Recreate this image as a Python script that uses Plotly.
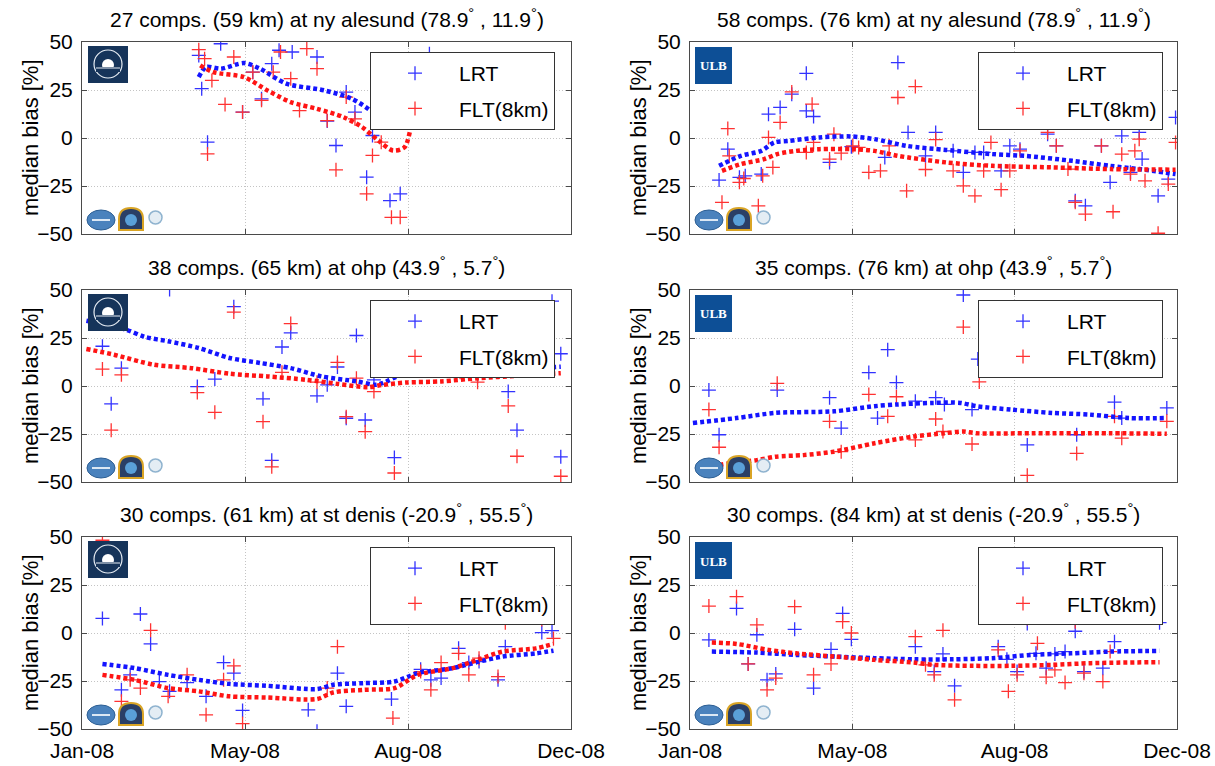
import plotly.graph_objects as go

W, H = 1215, 766

# ---------------- data (x = days since 1 Jan 2008) ----------------
TICK_TEXT = ["Jan-08", "May-08", "Aug-08", "Dec-08"]

TITLES = [
    "27 comps. (59 km) at ny alesund (78.9<sup>°</sup> , 11.9<sup>°</sup>)",
    "58 comps. (76 km) at ny alesund (78.9<sup>°</sup> , 11.9<sup>°</sup>)",
    "38 comps. (65 km) at ohp (43.9<sup>°</sup> , 5.7<sup>°</sup>)",
    "35 comps. (76 km) at ohp (43.9<sup>°</sup> , 5.7<sup>°</sup>)",
    "30 comps. (61 km) at st denis (-20.9<sup>°</sup> , 55.5<sup>°</sup>)",
    "30 comps. (84 km) at st denis (-20.9<sup>°</sup> , 55.5<sup>°</sup>)",
]

# panel 1 : ny alesund, left
p1_lrt_day = [80, 95, 82, 86, 110, 117, 123, 130, 135, 144, 161, 168, 174, 181, 187, 195, 199, 211, 218, 238]
p1_lrt = [43.0, 49.1, 25.7, -2.2, 13.5, 34.3, 20.4, 38.7, 45.7, 44.8, 42.2, 8.8, -3.9, 23.9, 13.5, -20.4, 1.3, -32.6, -29.1, 43.9]
p1_flt_day = [80, 84, 89, 98, 86, 104, 110, 117, 123, 131, 136, 143, 149, 154, 161, 168, 174, 181, 187, 195, 199, 205, 212, 218]
p1_flt = [46.0, 41.3, 30.0, 17.5, -8.3, 42.2, 13.5, 34.3, 19.6, 34.3, 44.8, 30.9, 14.3, 46.5, 36.1, 9.1, -16.6, 21.3, 10.0, -29.1, -9.1, -2.2, -41.3, -41.3]
p1_lrt_fit_day = [80, 85, 95, 111, 122, 140, 166, 185, 199, 208, 218, 224, 231]
p1_lrt_fit = [31.7, 37.0, 36.1, 39.0, 36.1, 28.3, 24.8, 20.4, 13.5, 7.4, 7.4, 10.9, 20.0]
p1_flt_fit_day = [81, 90, 111, 127, 143, 161, 179, 192, 203, 213, 221, 226, 229]
p1_flt_fit = [37.8, 34.3, 31.7, 24.8, 18.7, 15.2, 10.9, 5.6, -1.3, -6.5, -4.8, 7.4, 12.6]

# panel 2 : ny alesund, right
p2_lrt_day = [20, 26, 34, 38, 49, 54, 62, 70, 80, 80, 85, 96, 111, 134, 143, 150, 162, 169, 181, 188, 196, 202,
              214, 220, 227, 246, 252, 265, 272, 283, 289, 297, 303, 309, 311, 322, 329, 334]
p2_lrt = [-21.9, -5.8, -20.5, -19.7, -18.8, 12.4, 15.9, 22.8, 33.7, 14.1, 11.2, -12.7, -4.5, -10.1, 39.3, 2.9, -9.3, 2.9,
          -6.7, -17.9, -7.5, -7.5, -17.1, -4.1, -5.8, 2.0, -4.1, -32.7, -35.3, -4.1, -23.1, 1.1, -17.9, 2.9, -11.0,
          -30.1, -21.4, 10.7]
p2_flt_day = [22, 26, 27, 34, 37, 47, 50, 54, 57, 62, 70, 80, 84, 85, 96, 99, 104, 112, 116, 123, 131, 137, 143, 149,
              155, 162, 169, 181, 188, 196, 202, 207, 214, 220, 227, 246, 252, 260, 265, 272, 283, 291, 297, 303, 306,
              309, 313, 322, 329, 334]
p2_flt = [-33.5, 4.9, -9.3, -23.1, -21.1, -35.3, -19.7, 0.3, -15.3, 8.1, 24.0, -7.5, 17.6, -2.3, -11.0, 2.0, -7.9, -4.1,
          -4.9, -17.9, -17.1, -4.1, 21.1, -27.5, 26.8, -16.4, -0.8, -17.1, -24.9, -30.1, -17.1, -2.3, -26.9, -17.1,
          -6.7, 2.9, -4.1, -16.2, -33.5, -39.6, -4.1, -38.4, -8.4, -18.8, -6.7, -0.6, -22.3, -49.6, -24.0, -2.3]
p2_lrt_fit_day = [20, 35, 49, 58, 68, 89, 111, 127, 149, 176, 208, 230, 263, 289, 309, 334]
p2_lrt_fit = [-14.5, -9.3, -6.7, -2.3, -1.5, 0.3, 0.8, -0.6, -4.1, -6.2, -8.4, -9.3, -11.9, -14.5, -16.2, -18.8]
p2_flt_fit_day = [22, 35, 51, 60, 73, 89, 111, 127, 143, 176, 208, 249, 289, 334]
p2_flt_fit = [-17.1, -13.6, -11.0, -8.4, -6.7, -5.8, -5.8, -6.7, -9.3, -12.7, -14.5, -15.3, -16.2, -16.5]

# panel 3 : ohp, left
p3_lrt_day = [14, 20, 27, 60, 79, 91, 104, 124, 130, 137, 143, 161, 168, 175, 181, 188, 194, 200, 214, 271, 292, 298,
              322, 328, 328]
p3_lrt = [20.7, -9.3, 9.3, 50.3, -0.3, 3.6, 41.3, -6.7, -38.7, 20.3, 27.7, -5.1, 0.6, 9.9, -16.8, 26.3, -17.7, 3.2,
          -37.3, 5.0, -2.9, -23.0, 44.2, 16.8, -36.9]
p3_flt_day = [14, 20, 27, 79, 91, 104, 124, 130, 137, 143, 161, 175, 181, 188, 194, 200, 214, 259, 271, 292, 298, 328]
p3_flt = [8.8, -23.0, 5.8, -3.4, -13.7, 38.5, -18.6, -42.1, 7.1, 32.5, 2.0, 12.3, -16.0, 4.1, -23.8, -2.9, -45.3, 7.1,
          2.0, -10.4, -36.6, -47.0]
p3_lrt_fit_day = [3, 30, 43, 59, 80, 101, 122, 143, 164, 188, 201, 206, 219, 246, 285, 328]
p3_lrt_fit = [34.0, 29.4, 25.6, 23.3, 19.8, 14.6, 12.0, 9.3, 5.0, 2.4, 0.6, 1.5, 5.8, 7.6, 8.5, 10.0]
p3_flt_fit_day = [3, 22, 49, 75, 101, 127, 154, 175, 196, 206, 222, 246, 272, 298, 328]
p3_flt_fit = [19.3, 16.3, 11.1, 9.3, 6.4, 5.0, 3.2, 1.1, -0.6, 0.6, 1.8, 2.4, 4.1, 5.3, 6.7]

# panel 4 : ohp, right
p4_lrt_day = [13, 20, 60, 96, 104, 123, 129, 136, 142, 155, 169, 175, 188, 194, 198, 232, 266, 292, 297, 328]
p4_lrt = [-2.1, -25.4, -2.1, -6.1, -21.9, 7.0, -16.7, 18.9, 1.8, -7.9, -6.1, -9.6, 47.4, -12.3, 14.0, -30.7, -25.4,
          -8.4, -16.7, -11.4]
p4_flt_day = [13, 20, 60, 96, 104, 123, 136, 142, 155, 169, 174, 188, 194, 199, 232, 266, 292, 297, 328]
p4_flt = [-12.3, -31.9, 1.4, -18.4, -34.2, -4.4, -15.8, -5.6, -28.1, -17.2, -23.7, 30.7, -30.2, 2.1, -46.5, -35.1,
          -15.8, -27.2, -18.4]
p4_lrt_fit_day = [2, 32, 59, 99, 127, 143, 167, 186, 197, 221, 249, 275, 302, 328]
p4_lrt_fit = [-19.3, -16.7, -14.0, -13.2, -10.5, -9.6, -8.8, -8.8, -10.5, -12.3, -14.0, -14.9, -16.7, -16.7]
p4_flt_fit_day = [6, 26, 46, 59, 78, 99, 127, 154, 175, 188, 197, 235, 289, 328]
p4_flt_fit = [-43.0, -40.4, -38.6, -36.8, -36.0, -34.2, -29.8, -26.3, -24.6, -23.7, -24.6, -24.6, -24.6, -24.9]

# panel 5 : st denis, left
p5_lrt_day = [14, 27, 33, 40, 47, 53, 60, 72, 85, 97, 104, 110, 155, 161, 175, 181, 212, 232, 239, 246, 258, 265, 272,
              285, 290, 315, 322]
p5_lrt = [7.6, -29.6, -21.8, 9.9, -5.7, -25.3, -30.4, -25.8, -33.0, -15.4, -20.9, -40.3, -40.0, -51.2, -20.9, -38.2,
          -34.4, -18.9, -24.4, -23.5, -8.0, -15.4, -14.9, -24.4, -7.1, 0.2, 1.2]
p5_flt_day = [14, 27, 33, 40, 47, 59, 72, 85, 97, 104, 110, 168, 175, 213, 232, 239, 246, 258, 265, 272, 285, 290, 315,
              323]
p5_flt = [48.3, -35.6, -24.4, -28.7, 1.4, -33.0, -21.8, -42.6, -24.4, -17.1, -47.2, -28.7, -7.1, -44.3, -20.1, -29.6,
          -15.4, -10.6, -21.8, -13.1, -22.7, 5.4, 7.0, -2.8]
p5_lrt_fit_day = [14, 36, 59, 80, 101, 127, 161, 172, 193, 214, 230, 254, 272, 288, 311, 323]
p5_lrt_fit = [-16.1, -18.3, -21.8, -24.4, -26.5, -27.5, -29.2, -27.0, -26.1, -25.3, -20.9, -18.3, -14.9, -12.3, -10.6, -9.2]
p5_flt_fit_day = [14, 36, 59, 80, 101, 127, 161, 172, 193, 214, 230, 254, 272, 288, 311, 323]
p5_flt_fit = [-21.8, -24.4, -28.7, -30.4, -33.0, -33.6, -34.4, -31.0, -29.6, -28.7, -21.8, -18.3, -13.7, -9.7, -8.0, -5.7]

# panel 6 : st denis, right
p6_lrt_day = [13, 32, 40, 46, 53, 59, 72, 85, 97, 105, 111, 155, 168, 174, 182, 212, 218, 225, 232, 238, 245, 251, 258,
              265, 271, 284, 292, 323]
p6_lrt = [-3.6, 12.8, -16.1, -0.9, -24.4, -21.3, 1.9, -28.7, -8.5, 10.2, -3.3, -7.1, -20.1, -10.9, -27.5, -7.1, -13.7,
          -20.1, 5.0, -10.6, -18.3, -10.9, -9.7, 0.9, -20.1, -18.3, -4.5, 5.4]
p6_flt_day = [13, 32, 40, 46, 53, 59, 72, 85, 97, 105, 111, 155, 162, 168, 174, 182, 212, 219, 225, 232, 239, 245, 251,
              258, 265, 271, 284, 289]
p6_flt = [14.0, 18.9, -16.1, 4.2, -29.6, -23.5, 13.7, -21.8, -16.1, 5.9, 0.0, -1.9, -16.6, -21.8, 1.4, -34.8, -8.8,
          -30.4, -21.8, 7.6, -5.4, -23.0, -19.2, -25.8, 5.9, -20.9, -25.3, -9.7]
p6_lrt_fit_day = [15, 46, 73, 100, 127, 154, 181, 208, 235, 262, 289, 323]
p6_lrt_fit = [-9.7, -10.2, -11.4, -12.3, -13.1, -13.7, -13.7, -13.1, -11.4, -10.6, -9.7, -9.3]
p6_flt_fit_day = [15, 32, 54, 73, 100, 127, 154, 168, 195, 221, 249, 276, 323]
p6_flt_fit = [-5.0, -5.7, -8.8, -10.6, -12.3, -14.0, -15.4, -16.6, -17.1, -17.1, -16.6, -15.7, -15.2]

PANELS = [
    (p1_lrt_day, p1_lrt, p1_flt_day, p1_flt, p1_lrt_fit_day, p1_lrt_fit, p1_flt_fit_day, p1_flt_fit),
    (p2_lrt_day, p2_lrt, p2_flt_day, p2_flt, p2_lrt_fit_day, p2_lrt_fit, p2_flt_fit_day, p2_flt_fit),
    (p3_lrt_day, p3_lrt, p3_flt_day, p3_flt, p3_lrt_fit_day, p3_lrt_fit, p3_flt_fit_day, p3_flt_fit),
    (p4_lrt_day, p4_lrt, p4_flt_day, p4_flt, p4_lrt_fit_day, p4_lrt_fit, p4_flt_fit_day, p4_flt_fit),
    (p5_lrt_day, p5_lrt, p5_flt_day, p5_flt, p5_lrt_fit_day, p5_lrt_fit, p5_flt_fit_day, p5_flt_fit),
    (p6_lrt_day, p6_lrt, p6_flt_day, p6_flt, p6_lrt_fit_day, p6_lrt_fit, p6_flt_fit_day, p6_flt_fit),
]

# ---------------- layout geometry (pixels) ----------------
COLS = [(82, 571), (690, 1177)]
ROWS = [(42, 234), (290, 482), (537, 729)]
X_END = 335
TICK_VALS = [0, X_END / 3, 2 * X_END / 3, X_END]

FONT = "Liberation Sans, Arial, Helvetica, sans-serif"
BLUE = "rgb(20,20,255)"
RED = "rgb(255,20,20)"
BLUE_M = "rgb(50,50,255)"
RED_M = "rgb(255,50,50)"


def fx(p):
    return p / W


def fy(p):
    return 1 - p / H


fig = go.Figure()
shapes = []
annotations = []

for k in range(6):
    r, c = divmod(k, 2)
    xl, xr = COLS[c]
    yt, yb = ROWS[r]
    sfx = "" if k == 0 else str(k + 1)
    xa, ya = "x" + sfx, "y" + sfx
    leg = "legend" + sfx
    ld, lv, fd, fv, lfd, lfv, ffd, ffv = PANELS[k]

    fig.add_trace(go.Scatter(x=ld, y=lv, mode="markers", name="LRT", xaxis=xa, yaxis=ya, legend=leg,
                             legendgroup="a%d" % k,
                             marker=dict(symbol="cross-thin", size=10, color=BLUE_M,
                                         line=dict(width=1.3, color=BLUE_M))))
    fig.add_trace(go.Scatter(x=fd, y=fv, mode="markers", name="FLT(8km)", xaxis=xa, yaxis=ya, legend=leg,
                             legendgroup="b%d" % k,
                             marker=dict(symbol="cross-thin", size=10, color=RED_M,
                                         line=dict(width=1.3, color=RED_M))))
    fig.add_trace(go.Scatter(x=lfd, y=lfv, mode="lines", xaxis=xa, yaxis=ya, showlegend=False,
                             line=dict(color=BLUE, width=4.5, dash="4px,3px", shape="spline", smoothing=0.8)))
    fig.add_trace(go.Scatter(x=ffd, y=ffv, mode="lines", xaxis=xa, yaxis=ya, showlegend=False,
                             line=dict(color=RED, width=4.5, dash="4px,3px", shape="spline", smoothing=0.8)))

    axcommon = dict(showline=True, linecolor="#4a4a4a", linewidth=1, mirror="ticks", ticks="inside",
                    ticklen=5, tickcolor="#4a4a4a", showgrid=True, gridcolor="#c4c4c4", griddash="1px,2px",
                    gridwidth=1, zeroline=False, automargin=False,
                    tickfont=dict(family=FONT, size=21, color="black"))
    fig.update_layout(**{
        "xaxis" + sfx: dict(axcommon, domain=[fx(xl), fx(xr)], range=[0, X_END], anchor=ya,
                            tickvals=TICK_VALS, ticktext=TICK_TEXT, showticklabels=(r == 2),
                            ticklabelstandoff=3),
        "yaxis" + sfx: dict(axcommon, domain=[fy(yb), fy(yt)], range=[-50, 50], anchor=xa,
                            tickvals=[-50, -25, 0, 25, 50], ticklabelstandoff=4),
        leg: dict(x=fx(xl + 288), y=fy(yt + 10), xanchor="left", yanchor="top", bgcolor="white",
                  bordercolor="#333333", borderwidth=1, itemwidth=78, tracegroupgap=5,
                  font=dict(family=FONT, size=21, color="black")),
    })

    # panel title
    annotations.append(dict(x=fx((xl + xr) / 2), y=fy(yt - 24), xref="paper", yref="paper",
                            text=TITLES[k], showarrow=False, xanchor="center", yanchor="middle",
                            font=dict(family=FONT, size=21, color="black")))
    # y axis title
    annotations.append(dict(x=fx(xl - 52), y=fy((yt + yb) / 2), xref="paper", yref="paper",
                            text="median bias [%]", showarrow=False, textangle=-90,
                            xanchor="center", yanchor="middle",
                            font=dict(family=FONT, size=22, color="black")))

    # top-left institute logo
    if c == 0:
        shapes.append(dict(type="rect", xref="paper", yref="paper", layer="above",
                           x0=fx(xl + 6), x1=fx(xl + 46), y0=fy(yt + 4), y1=fy(yt + 41),
                           fillcolor="#16345a", line=dict(width=0)))
        shapes.append(dict(type="circle", xref="paper", yref="paper", layer="above",
                           x0=fx(xl + 12), x1=fx(xl + 40), y0=fy(yt + 8), y1=fy(yt + 36),
                           line=dict(color="#e8eef5", width=1.2)))
        shapes.append(dict(type="circle", xref="paper", yref="paper", layer="above",
                           x0=fx(xl + 20), x1=fx(xl + 32), y0=fy(yt + 17), y1=fy(yt + 29),
                           fillcolor="#ffffff", line=dict(width=0)))
        shapes.append(dict(type="rect", xref="paper", yref="paper", layer="above",
                           x0=fx(xl + 14), x1=fx(xl + 38), y0=fy(yt + 25), y1=fy(yt + 30),
                           fillcolor="#16345a", line=dict(width=0)))
        shapes.append(dict(type="line", xref="paper", yref="paper", layer="above",
                           x0=fx(xl + 14), x1=fx(xl + 38), y0=fy(yt + 26), y1=fy(yt + 26),
                           line=dict(color="#e8eef5", width=1)))
    else:
        shapes.append(dict(type="rect", xref="paper", yref="paper", layer="above",
                           x0=fx(xl + 5), x1=fx(xl + 42), y0=fy(yt + 5), y1=fy(yt + 42),
                           fillcolor="#0d4f96", line=dict(width=0)))
        annotations.append(dict(x=fx(xl + 23.5), y=fy(yt + 24), xref="paper", yref="paper",
                                text="<b>ULB</b>", showarrow=False, xanchor="center", yanchor="middle",
                                font=dict(family="Liberation Serif, DejaVu Serif, serif", size=13,
                                          color="white")))

    # bottom-left partner logos
    shapes.append(dict(type="circle", xref="paper", yref="paper", layer="above",
                       x0=fx(xl + 5), x1=fx(xl + 33), y0=fy(yb - 24), y1=fy(yb - 4),
                       fillcolor="#4a82bd", line=dict(color="#2c5e93", width=1)))
    shapes.append(dict(type="line", xref="paper", yref="paper", layer="above",
                       x0=fx(xl + 10), x1=fx(xl + 28), y0=fy(yb - 14), y1=fy(yb - 14),
                       line=dict(color="#dce8f4", width=2)))
    x1s, x2s = xl + 37, xl + 61
    xm = (x1s + x2s) / 2
    shapes.append(dict(type="path", xref="paper", yref="paper", layer="above",
                       path="M %f,%f L %f,%f Q %f,%f %f,%f Q %f,%f %f,%f L %f,%f Z" % (
                           fx(x1s), fy(yb - 4), fx(x1s), fy(yb - 15), fx(x1s), fy(yb - 26), fx(xm), fy(yb - 26),
                           fx(x2s), fy(yb - 26), fx(x2s), fy(yb - 15), fx(x2s), fy(yb - 4)),
                       fillcolor="#2a3f66", line=dict(color="#d9a425", width=2)))
    shapes.append(dict(type="circle", xref="paper", yref="paper", layer="above",
                       x0=fx(xl + 43), x1=fx(xl + 55), y0=fy(yb - 20), y1=fy(yb - 8),
                       fillcolor="#5aa0d8", line=dict(width=0)))
    shapes.append(dict(type="circle", xref="paper", yref="paper", layer="above",
                       x0=fx(xl + 67), x1=fx(xl + 80), y0=fy(yb - 23), y1=fy(yb - 10),
                       fillcolor="#e4edf4", line=dict(color="#8fb3cf", width=1.5)))

fig.update_layout(width=W, height=H, margin=dict(l=0, r=0, t=0, b=0, autoexpand=False), paper_bgcolor="white",
                  plot_bgcolor="white", shapes=shapes, annotations=annotations,
                  font=dict(family=FONT, size=21, color="black"))

fig.write_html("out.html")
